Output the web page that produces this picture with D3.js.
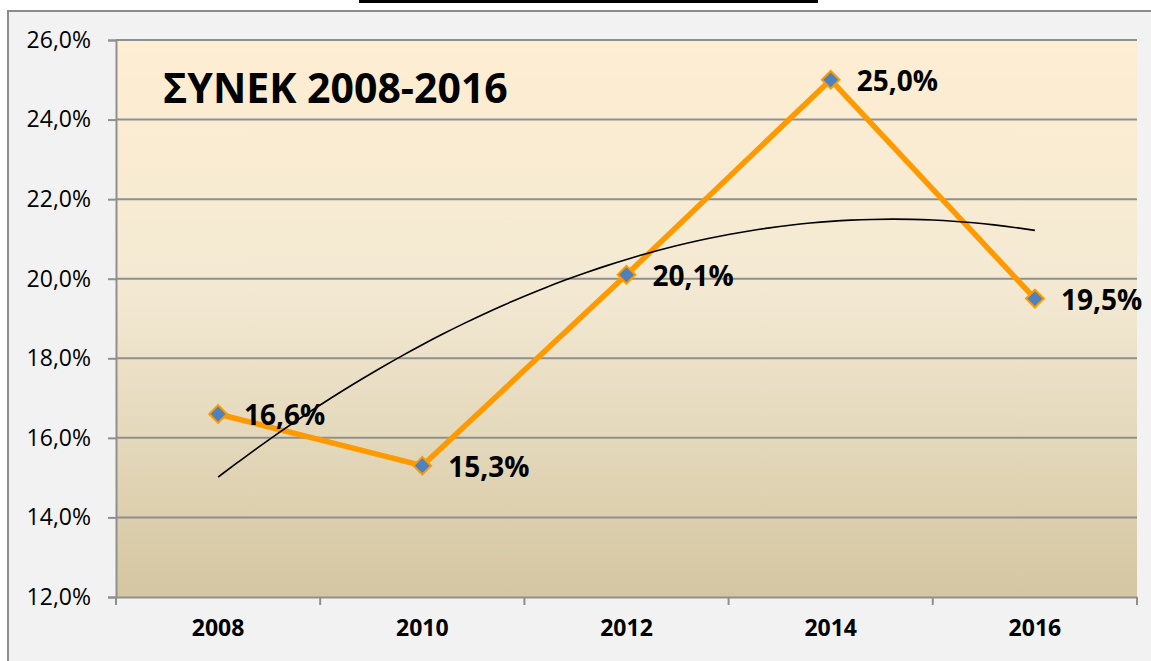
<!DOCTYPE html>
<meta charset="utf-8">
<html>
<head>
<title>ΣΥΝΕΚ 2008-2016</title>
<script src="https://d3js.org/d3.v7.min.js"></script>
<style>
body { margin: 0; background: #ffffff; }
text { font-family: 'Open Sans', 'Noto Sans', sans-serif; }
</style>
</head>
<body>
<div id="chart"></div>
<script>

// data
var years = ["2008", "2010", "2012", "2014", "2016"];
var values = [16.6, 15.3, 20.1, 25.0, 19.5];
var yTicks = [12, 14, 16, 18, 20, 22, 24, 26];
var title = "ΣΥΝΕΚ 2008-2016";

var W = 1151, H = 661;
var margin = {top: 40, right: 14, bottom: 64, left: 116},
    width = W - margin.left - margin.right,
    height = H - margin.top - margin.bottom;

var svg = d3.select("#chart").append("svg")
    .attr("width", W)
    .attr("height", H);

// background + frame
svg.append("rect")
    .attr("x", 8).attr("y", 11)
    .attr("width", W).attr("height", H)
    .attr("fill", "#f2f2f2")
    .attr("stroke", "#8c8c8c")
    .attr("stroke-width", 2);

// black bar at the very top
svg.append("rect")
    .attr("x", 359).attr("y", 0)
    .attr("width", 459).attr("height", 3)
    .attr("fill", "#000");

var defs = svg.append("defs");
var grad = defs.append("linearGradient")
    .attr("id", "bg")
    .attr("x1", 0).attr("y1", 0).attr("x2", 0).attr("y2", 1);
grad.append("stop").attr("offset", "0%").attr("stop-color", "#feeed2");
grad.append("stop").attr("offset", "45%").attr("stop-color", "#f3e9d3");
grad.append("stop").attr("offset", "100%").attr("stop-color", "#d4c6a1");

var g = svg.append("g")
    .attr("transform", "translate(" + margin.left + "," + margin.top + ")");

var x = d3.scaleBand()
    .domain(years)
    .range([0, width]);

var y = d3.scaleLinear()
    .domain([12, 26])
    .range([height, 0]);

g.append("rect")
    .attr("width", width)
    .attr("height", height)
    .attr("fill", "url(#bg)");

// gridlines
g.selectAll(".grid")
  .data(yTicks.slice(1))
  .enter().append("line")
    .attr("x1", 0).attr("x2", width)
    .attr("y1", function(d) { return y(d); })
    .attr("y2", function(d) { return y(d); })
    .attr("stroke", "#8f8f8f")
    .attr("stroke-width", 2);

// Y axis
var yAxis = g.append("g")
    .call(d3.axisLeft(y)
      .tickValues(yTicks)
      .tickSize(8)
      .tickPadding(17)
      .tickFormat(function(d) { return d3.format(".1f")(d).replace(".", ",") + "%"; }));
yAxis.select(".domain").attr("stroke", "#8f8f8f").attr("stroke-width", 2);
yAxis.selectAll(".tick line").attr("stroke", "#8f8f8f").attr("stroke-width", 2);
yAxis.selectAll("text")
    .attr("font-size", "23px")
    .attr("fill", "#000")
    .style("font-family", "'Open Sans', sans-serif");

// X axis
var xAxis = g.append("g")
    .attr("transform", "translate(0," + height + ")")
    .call(d3.axisBottom(x).tickSize(0).tickPadding(23));
xAxis.select(".domain").attr("stroke", "#8f8f8f").attr("stroke-width", 2);
xAxis.selectAll("text")
    .attr("font-size", "23px")
    .attr("font-weight", "bold")
    .attr("fill", "#000")
    .style("font-family", "'Open Sans', sans-serif");

// x tick marks at category boundaries
var bounds = years.map(function(d) { return x(d); }).concat([width]);
xAxis.selectAll(".bound")
  .data(bounds)
  .enter().append("line")
    .attr("x1", function(d) { return d; })
    .attr("x2", function(d) { return d; })
    .attr("y1", 0).attr("y2", 8)
    .attr("stroke", "#8f8f8f")
    .attr("stroke-width", 2);

var cx = function(i) { return x(years[i]) + x.bandwidth() / 2; };

// title
g.append("text")
    .attr("x", 47)
    .attr("y", 63)
    .attr("font-size", "41px")
    .attr("font-weight", "bold")
    .attr("fill", "#000")
    .text(title);

// main line
var line = d3.line()
    .x(function(d, i) { return cx(i); })
    .y(function(d) { return y(d); });

g.append("path")
    .datum(values)
    .attr("d", line)
    .attr("fill", "none")
    .attr("stroke", "#ff9900")
    .attr("stroke-width", 5.5)
    .attr("stroke-linejoin", "round");

// polynomial (2nd order) trendline, least squares on the values
var n = values.length;
var xs = d3.range(n);
var mx = d3.mean(xs), my = d3.mean(values);
var p1 = xs.map(function(v) { return v - mx; });
var p1sq = d3.mean(p1.map(function(v) { return v * v; }));
var p2 = p1.map(function(v) { return v * v - p1sq; });
var b1 = d3.sum(p1.map(function(v, i) { return v * values[i]; })) / d3.sum(p1.map(function(v) { return v * v; }));
var b2 = d3.sum(p2.map(function(v, i) { return v * values[i]; })) / d3.sum(p2.map(function(v) { return v * v; }));
var fit = function(t) { var a = t - mx; return my + b1 * a + b2 * (a * a - p1sq); };
var trendPts = d3.range(0, n - 1 + 1e-9, 0.1).map(function(t) { return [t, fit(t)]; });
var step = x.step();
var trend = d3.line()
    .x(function(d) { return cx(0) + d[0] * step; })
    .y(function(d) { return y(d[1]); })
    .curve(d3.curveBasis);

g.append("path")
    .datum(trendPts)
    .attr("d", trend)
    .attr("fill", "none")
    .attr("stroke", "#000")
    .attr("stroke-width", 1.6);

// markers
g.selectAll(".marker")
  .data(values)
  .enter().append("path")
    .attr("d", d3.symbol().type(d3.symbolDiamond2).size(200))
    .attr("transform", function(d, i) { return "translate(" + cx(i) + "," + y(d) + ")"; })
    .attr("fill", "#4f81bd")
    .attr("stroke", "#ff9900")
    .attr("stroke-width", 2);

// data labels
g.selectAll(".lbl")
  .data(values)
  .enter().append("text")
    .attr("x", function(d, i) { return cx(i) + 26; })
    .attr("y", function(d) { return y(d) + 11; })
    .attr("font-size", "28px")
    .attr("font-weight", "bold")
    .attr("fill", "#000")
    .text(function(d) { return d3.format(".1f")(d).replace(".", ",") + "%"; });

</script>
</body>
</html>
